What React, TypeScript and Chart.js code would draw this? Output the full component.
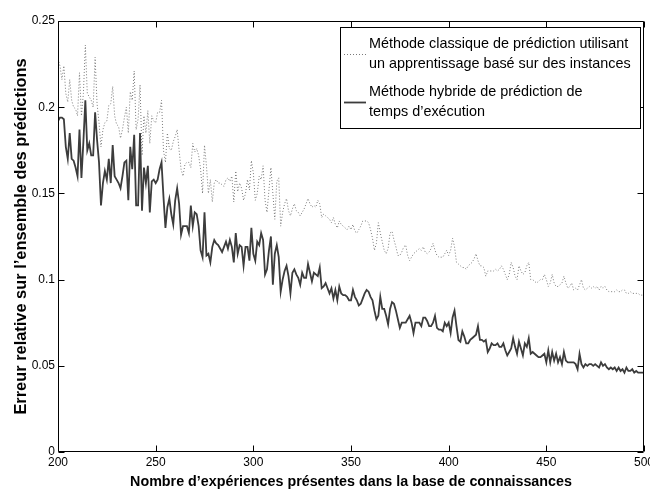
import React, { useEffect, useRef } from "react";
import { Chart, registerables } from "chart.js";

Chart.register(...registerables);

const FONT = "'Liberation Sans', Arial, Helvetica, sans-serif";

// Number of experiences in the knowledge base (x axis, one point per experience count)
const firstExperience = 200;

// Classic instance-based prediction method (dotted line), x = 200..500
const classicErrors: number[] = [
  0.228, 0.224, 0.216, 0.224, 0.208, 0.203, 0.216, 0.204, 0.200, 0.199, // 200
  0.195, 0.220, 0.195, 0.208, 0.236, 0.208, 0.206, 0.204, 0.200, 0.229, // 210
  0.202, 0.191, 0.177, 0.187, 0.191, 0.192, 0.201, 0.202, 0.212, 0.195, // 220
  0.190, 0.189, 0.182, 0.187, 0.194, 0.200, 0.185, 0.209, 0.204, 0.221, // 230
  0.187, 0.193, 0.213, 0.172, 0.195, 0.185, 0.198, 0.179, 0.195, 0.192, // 240
  0.191, 0.197, 0.197, 0.204, 0.175, 0.168, 0.185, 0.176, 0.175, 0.180, // 250
  0.183, 0.187, 0.175, 0.164, 0.160, 0.167, 0.168, 0.168, 0.165, 0.179, // 260
  0.174, 0.176, 0.172, 0.164, 0.150, 0.178, 0.166, 0.150, 0.158, 0.145, // 270
  0.156, 0.158, 0.156, 0.156, 0.155, 0.154, 0.158, 0.159, 0.157, 0.160, // 280
  0.145, 0.163, 0.151, 0.156, 0.153, 0.146, 0.150, 0.158, 0.152, 0.169, // 290
  0.162, 0.146, 0.150, 0.160, 0.158, 0.166, 0.146, 0.139, 0.152, 0.165, // 300
  0.150, 0.135, 0.157, 0.159, 0.131, 0.139, 0.144, 0.147, 0.140, 0.137, // 310
  0.141, 0.144, 0.140, 0.139, 0.137, 0.139, 0.141, 0.144, 0.147, 0.144, // 320
  0.142, 0.143, 0.142, 0.146, 0.144, 0.136, 0.138, 0.137, 0.136, 0.135, // 330
  0.133, 0.136, 0.132, 0.130, 0.134, 0.132, 0.131, 0.130, 0.129, 0.131, // 340
  0.129, 0.132, 0.128, 0.127, 0.129, 0.131, 0.134, 0.134, 0.134, 0.133, // 350
  0.129, 0.124, 0.117, 0.121, 0.133, 0.127, 0.122, 0.117, 0.115, 0.118, // 360
  0.127, 0.128, 0.123, 0.119, 0.114, 0.114, 0.116, 0.119, 0.120, 0.114, // 370
  0.111, 0.113, 0.115, 0.116, 0.117, 0.118, 0.117, 0.119, 0.116, 0.115, // 380
  0.116, 0.118, 0.121, 0.117, 0.114, 0.113, 0.113, 0.113, 0.115, 0.117, // 390
  0.114, 0.117, 0.124, 0.119, 0.110, 0.109, 0.108, 0.107, 0.107, 0.106, // 400
  0.108, 0.109, 0.110, 0.112, 0.115, 0.111, 0.108, 0.108, 0.107, 0.102, // 410
  0.105, 0.105, 0.105, 0.105, 0.106, 0.105, 0.106, 0.108, 0.106, 0.103, // 420
  0.100, 0.103, 0.110, 0.107, 0.102, 0.100, 0.108, 0.105, 0.103, 0.104, // 430
  0.108, 0.110, 0.100, 0.100, 0.099, 0.098, 0.099, 0.100, 0.100, 0.103, // 440
  0.100, 0.096, 0.098, 0.103, 0.098, 0.096, 0.096, 0.097, 0.098, 0.102, // 450
  0.098, 0.095, 0.096, 0.098, 0.094, 0.095, 0.094, 0.097, 0.100, 0.095, // 460
  0.094, 0.095, 0.096, 0.095, 0.096, 0.095, 0.096, 0.094, 0.096, 0.095, // 470
  0.096, 0.094, 0.093, 0.093, 0.093, 0.093, 0.094, 0.093, 0.093, 0.094, // 480
  0.094, 0.092, 0.092, 0.093, 0.092, 0.092, 0.092, 0.092, 0.091, 0.091, // 490
  0.091, // 500
];

// Hybrid execution-time prediction method (solid line), x = 200..500
const hybridErrors: number[] = [
  0.192, 0.194, 0.194, 0.193, 0.177, 0.170, 0.185, 0.170, 0.169, 0.165, // 200
  0.160, 0.187, 0.159, 0.180, 0.204, 0.175, 0.179, 0.172, 0.172, 0.197, // 210
  0.181, 0.168, 0.143, 0.156, 0.163, 0.158, 0.170, 0.156, 0.178, 0.160, // 220
  0.158, 0.156, 0.153, 0.160, 0.168, 0.169, 0.146, 0.177, 0.164, 0.184, // 230
  0.143, 0.143, 0.185, 0.140, 0.165, 0.156, 0.166, 0.139, 0.157, 0.158, // 240
  0.156, 0.158, 0.164, 0.168, 0.148, 0.130, 0.142, 0.147, 0.138, 0.132, // 250
  0.146, 0.153, 0.144, 0.126, 0.131, 0.131, 0.131, 0.127, 0.143, 0.131, // 260
  0.139, 0.138, 0.131, 0.117, 0.113, 0.139, 0.114, 0.115, 0.110, 0.119, // 270
  0.123, 0.121, 0.120, 0.118, 0.116, 0.119, 0.122, 0.118, 0.123, 0.119, // 280
  0.110, 0.127, 0.115, 0.120, 0.119, 0.108, 0.119, 0.119, 0.111, 0.130, // 290
  0.115, 0.111, 0.122, 0.120, 0.127, 0.123, 0.103, 0.106, 0.117, 0.125, // 300
  0.097, 0.115, 0.120, 0.113, 0.093, 0.100, 0.105, 0.108, 0.102, 0.092, // 310
  0.104, 0.106, 0.103, 0.101, 0.097, 0.104, 0.101, 0.101, 0.109, 0.104, // 320
  0.099, 0.104, 0.103, 0.102, 0.107, 0.095, 0.096, 0.098, 0.095, 0.092, // 330
  0.095, 0.089, 0.094, 0.088, 0.096, 0.092, 0.091, 0.091, 0.090, 0.088, // 340
  0.088, 0.094, 0.090, 0.088, 0.085, 0.086, 0.089, 0.092, 0.094, 0.093, // 350
  0.090, 0.088, 0.082, 0.077, 0.079, 0.090, 0.083, 0.083, 0.079, 0.074, // 360
  0.083, 0.087, 0.086, 0.082, 0.077, 0.072, 0.075, 0.075, 0.075, 0.077, // 370
  0.079, 0.075, 0.069, 0.075, 0.075, 0.075, 0.073, 0.078, 0.078, 0.076, // 380
  0.073, 0.073, 0.075, 0.079, 0.072, 0.071, 0.071, 0.070, 0.075, 0.073, // 390
  0.075, 0.069, 0.078, 0.082, 0.073, 0.065, 0.064, 0.070, 0.067, 0.063, // 400
  0.063, 0.065, 0.066, 0.067, 0.068, 0.073, 0.065, 0.065, 0.064, 0.065, // 410
  0.058, 0.060, 0.063, 0.062, 0.062, 0.063, 0.061, 0.061, 0.063, 0.059, // 420
  0.056, 0.058, 0.060, 0.066, 0.061, 0.057, 0.064, 0.060, 0.056, 0.063, // 430
  0.061, 0.066, 0.057, 0.058, 0.057, 0.056, 0.055, 0.055, 0.056, 0.057, // 440
  0.052, 0.059, 0.052, 0.058, 0.053, 0.057, 0.052, 0.055, 0.051, 0.058, // 450
  0.053, 0.052, 0.052, 0.052, 0.052, 0.051, 0.048, 0.057, 0.051, 0.049, // 460
  0.051, 0.050, 0.051, 0.051, 0.050, 0.051, 0.050, 0.049, 0.052, 0.050, // 470
  0.051, 0.049, 0.048, 0.049, 0.048, 0.049, 0.047, 0.049, 0.047, 0.048, // 480
  0.046, 0.049, 0.047, 0.047, 0.048, 0.046, 0.047, 0.046, 0.046, 0.046, // 490
  0.046, // 500
];

const experienceCounts: number[] = classicErrors.map((_, i) => firstExperience + i);

const xTickValues: number[] = [200, 250, 300, 350, 400, 450, 500];
const yTickValues: number[] = [0, 0.05, 0.1, 0.15, 0.2, 0.25];

const classicLabel = ["Méthode classique de prédiction utilisant", "un apprentissage basé sur des instances"];
const hybridLabel = ["Méthode hybride de prédiction de", "temps d’exécution"];
const xTitle = "Nombre d’expériences présentes dans la base de connaissances";
const yTitle = "Erreur relative sur l’ensemble des prédictions";

const TICK_LEN = 6;

const boxPlugin = {
  id: "matlabBox",
  afterDatasetsDraw(chart: any) {
    const { ctx, chartArea } = chart;
    const { left, top, right, bottom } = chartArea;
    const xs = chart.scales.x;
    const ys = chart.scales.y;
    ctx.save();
    ctx.strokeStyle = "#000";
    ctx.lineWidth = 1;
    ctx.beginPath();
    const L = Math.round(left) + 0.5;
    const R = Math.round(right) - 0.5;
    const T = Math.round(top) + 0.5;
    const B = Math.round(bottom) - 0.5;
    ctx.rect(L, T, R - L, B - T);
    xs.ticks.forEach((t: any) => {
      const px = Math.round(xs.getPixelForValue(t.value)) + 0.5;
      ctx.moveTo(px, B);
      ctx.lineTo(px, B - TICK_LEN);
      ctx.moveTo(px, T);
      ctx.lineTo(px, T + TICK_LEN);
    });
    ys.ticks.forEach((t: any) => {
      const py = Math.round(ys.getPixelForValue(t.value)) + 0.5;
      ctx.moveTo(L, py);
      ctx.lineTo(L + TICK_LEN, py);
      ctx.moveTo(R, py);
      ctx.lineTo(R - TICK_LEN, py);
    });
    ctx.stroke();
    ctx.restore();
  },
};

const legendPlugin = {
  id: "boxLegend",
  afterDraw(chart: any) {
    const { ctx } = chart;
    const boxL = 340.5, boxT = 27.5, boxW = 300, boxH = 101;
    ctx.save();
    ctx.fillStyle = "#fff";
    ctx.fillRect(boxL, boxT, boxW, boxH);
    ctx.strokeStyle = "#000";
    ctx.lineWidth = 1;
    ctx.strokeRect(boxL, boxT, boxW, boxH);
    const lineY = [[44, 64], [92, 112]];
    ctx.font = `14.4px ${FONT}`;
    ctx.textBaseline = "middle";
    ctx.textAlign = "left";
    chart.data.datasets.forEach((ds: any, i: number) => {
      const lines: string[] = ds.legendLines;
      const ys = lineY[i];
      const sampleY = Math.round((ys[0] + ys[1]) / 2) + 0.5;
      ctx.save();
      ctx.strokeStyle = ds.borderColor;
      ctx.lineWidth = ds.borderWidth;
      ctx.setLineDash(ds.borderDash || []);
      ctx.beginPath();
      ctx.moveTo(344, sampleY);
      ctx.lineTo(366, sampleY);
      ctx.stroke();
      ctx.restore();
      ctx.fillStyle = "#000";
      lines.forEach((txt, j) => ctx.fillText(txt, 369, ys[j]));
    });
    ctx.restore();
  },
};

export default function App() {
  const canvasRef = useRef<HTMLCanvasElement | null>(null);

  useEffect(() => {
    if (!canvasRef.current) return;
    const chart = new Chart(canvasRef.current, {
      type: "line",
      data: {
        datasets: [
          {
            label: classicLabel.join(" "),
            legendLines: classicLabel,
            data: experienceCounts.map((x, i) => ({ x, y: classicErrors[i] })),
            borderColor: "#7a7a7a",
            borderWidth: 1,
            borderDash: [1, 2],
            pointRadius: 0,
            tension: 0,
            fill: false,
          } as any,
          {
            label: hybridLabel.join(" "),
            legendLines: hybridLabel,
            data: experienceCounts.map((x, i) => ({ x, y: hybridErrors[i] })),
            borderColor: "#3c3c3c",
            borderWidth: 1.8,
            pointRadius: 0,
            tension: 0,
            fill: false,
          } as any,
        ],
      },
      options: {
        responsive: false,
        animation: false,
        devicePixelRatio: 1,
        layout: { padding: { left: 0, top: 21, right: 6, bottom: 0 } },
        plugins: {
          legend: { display: false },
          tooltip: { enabled: false },
        },
        scales: {
          x: {
            type: "linear",
            min: 200,
            max: 500,
            afterBuildTicks: (scale: any) => {
              scale.ticks = xTickValues.map((v) => ({ value: v }));
            },
            afterFit: (scale: any) => {
              scale.height = 38;
              scale.paddingLeft = 0;
              scale.paddingRight = 0;
            },
            grid: { display: false, drawTicks: false },
            border: { display: false },
            ticks: {
              padding: 3.5,
              color: "#000",
              autoSkip: false,
              maxRotation: 0,
              font: { family: FONT, size: 12 },
              callback: (v: any) => String(v),
            },
            title: {
              display: true,
              text: xTitle,
              color: "#000",
              font: { family: FONT, size: 14.3, weight: "bold" },
              padding: { top: 0, bottom: -1 },
            },
          },
          y: {
            type: "linear",
            min: 0,
            max: 0.25,
            afterBuildTicks: (scale: any) => {
              scale.ticks = yTickValues.map((v) => ({ value: v }));
            },
            afterFit: (scale: any) => {
              scale.width = 58;
              scale.paddingTop = 0;
              scale.paddingBottom = 0;
            },
            grid: { display: false, drawTicks: false },
            border: { display: false },
            ticks: {
              padding: 3,
              color: "#000",
              autoSkip: false,
              font: { family: FONT, size: 12 },
              callback: (v: any) => String(Number(Number(v).toFixed(2))),
            },
            title: {
              display: true,
              text: yTitle,
              color: "#000",
              font: { family: FONT, size: 16.4, weight: "bold" },
              padding: { top: 12, bottom: 0 },
            },
          },
        },
      } as any,
      plugins: [boxPlugin, legendPlugin],
    });
    return () => chart.destroy();
  }, []);

  return (
    <div style={{ position: "fixed", left: 0, top: 0, width: 650, height: 490, background: "#fff" }}>
      <canvas ref={canvasRef} width={650} height={490} style={{ display: "block" }} />
    </div>
  );
}
